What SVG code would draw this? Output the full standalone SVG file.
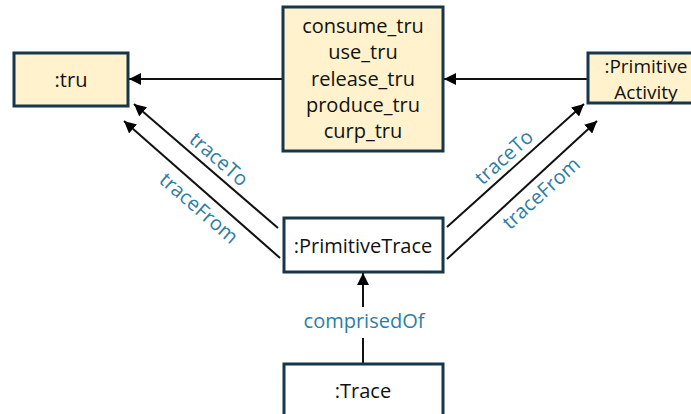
<svg xmlns="http://www.w3.org/2000/svg" width="691" height="414" viewBox="0 0 691 414">
<style>
.box{stroke:#17364a;stroke-width:3}
.y{fill:#fff2cc}
.w{fill:#ffffff}
.t{font-family:"Open Sans","Liberation Sans",sans-serif;font-size:20px;fill:#111;text-anchor:middle}
.s{font-size:19px}
.lbl{font-family:"Open Sans","Liberation Sans",sans-serif;font-size:20px;fill:#2e7ea3;text-anchor:middle}
.c{stroke:#111;stroke-width:2;fill:none;marker-end:url(#ah)}
</style>
<defs>
<marker id="ah" viewBox="0 0 10 10" refX="10" refY="5" markerWidth="12" markerHeight="12" markerUnits="userSpaceOnUse" orient="auto">
<path d="M0,0 L10,5 L0,10 z" fill="#000"/>
</marker>
</defs>
<rect width="691" height="414" fill="#fff"/>
<g id="connectors">
<line class="c" x1="283" y1="79" x2="129" y2="79"/>
<line class="c" x1="588" y1="79" x2="444" y2="79"/>
<line class="c" x1="278" y1="228" x2="134" y2="104"/>
<line class="c" x1="280" y1="258" x2="124" y2="121"/>
<line class="c" x1="447" y1="227" x2="584" y2="104"/>
<line class="c" x1="447" y1="259" x2="597" y2="121"/>
<line class="c" x1="363" y1="364" x2="363" y2="273"/>
<rect x="294" y="307" width="140" height="31" fill="#fff"/>
<text class="lbl" transform="translate(219,159) rotate(41)" dy="7">traceTo</text>
<text class="lbl" transform="translate(199,208) rotate(41)" dy="7">traceFrom</text>
<text class="lbl" transform="translate(504,157) rotate(-42)" dy="7">traceTo</text>
<text class="lbl" transform="translate(541,193) rotate(-42)" dy="7">traceFrom</text>
<text class="lbl" x="364" y="328">comprisedOf</text>
</g>
<g id="tru">
<rect class="box y" x="14" y="53" width="114" height="53"/>
<text class="t" x="71" y="87">:tru</text>
</g>
<g id="operations">
<rect class="box y" x="283" y="7" width="160" height="144"/>
<text class="t" x="363" y="33">consume_tru</text>
<text class="t" x="363" y="59">use_tru</text>
<text class="t" x="363" y="86">release_tru</text>
<text class="t" x="363" y="112">produce_tru</text>
<text class="t" x="363" y="138">curp_tru</text>
</g>
<g id="primitiveActivity">
<rect class="box y" x="588" y="53" width="116" height="50"/>
<text class="t s" x="646" y="73">:Primitive</text>
<text class="t s" x="646" y="99">Activity</text>
</g>
<g id="primitiveTrace">
<rect class="box w" x="284" y="218" width="159" height="54"/>
<text class="t" x="363" y="253">:PrimitiveTrace</text>
</g>
<g id="trace">
<rect class="box w" x="284" y="364" width="159" height="60"/>
<text class="t" x="363" y="398">:Trace</text>
</g>
</svg>
